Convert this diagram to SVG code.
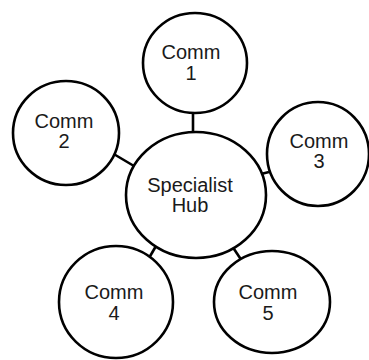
<svg xmlns="http://www.w3.org/2000/svg" width="369" height="360" viewBox="0 0 369 360">
<style>
.n{fill:#fff;stroke:#000;stroke-width:2.6}
.c{stroke:#000;stroke-width:2.6;fill:none}
text{font-family:"Liberation Sans",Arial,sans-serif;font-size:20px;fill:#1a1a1a;text-anchor:middle}
</style>
<rect width="369" height="360" fill="#fff"/>
<g id="connectors">
<line class="c" x1="193" y1="112" x2="193" y2="133"/>
<line class="c" x1="112" y1="153" x2="134" y2="166"/>
<line class="c" x1="261" y1="174" x2="269" y2="172"/>
<line class="c" x1="156" y1="246" x2="149" y2="258"/>
<line class="c" x1="232" y1="246" x2="242" y2="261"/>
</g>
<g id="hub"><ellipse class="n" cx="196" cy="195" rx="70" ry="63"/><text x="190" y="192">Specialist</text><text x="190" y="212">Hub</text></g>
<g id="comm1"><ellipse class="n" cx="195" cy="63" rx="52" ry="50"/><text x="191" y="59">Comm</text><text x="191" y="80">1</text></g>
<g id="comm2"><ellipse class="n" cx="66" cy="133" rx="53" ry="52"/><text x="64" y="128">Comm</text><text x="64" y="148">2</text></g>
<g id="comm3"><ellipse class="n" cx="318" cy="154" rx="51" ry="52"/><text x="319" y="148">Comm</text><text x="319" y="168">3</text></g>
<g id="comm4"><ellipse class="n" cx="116" cy="302" rx="57" ry="56"/><text x="114" y="299">Comm</text><text x="114" y="320">4</text></g>
<g id="comm5"><ellipse class="n" cx="272" cy="302" rx="58" ry="51"/><text x="268" y="299">Comm</text><text x="268" y="320">5</text></g>
</svg>
